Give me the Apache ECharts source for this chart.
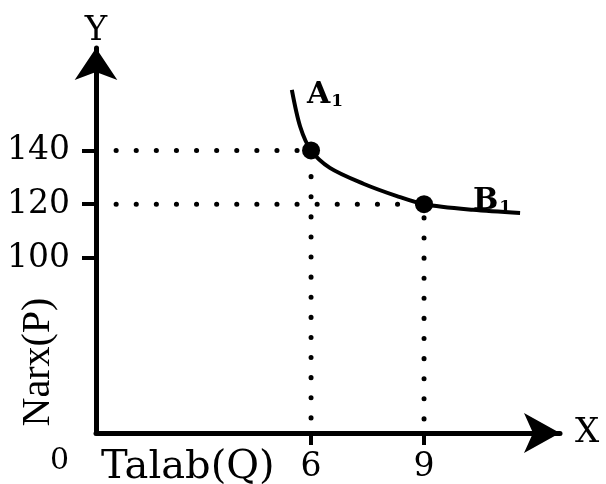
<!DOCTYPE html>
<html>
<head>
<meta charset="utf-8">
<title>Talab egri chizig'i</title>
<script src="https://cdn.jsdelivr.net/npm/echarts@6/dist/echarts.min.js"></script>
<style>
  html, body { margin: 0; padding: 0; background: #fff; }
  #chart { width: 606px; height: 484px; }
</style>
</head>
<body>
<div id="chart"></div>
<script>
// tick labels
var qTicks = [6, 9];
var pTicks = [100, 120, 140];

// talab egri chizig'i (Q, P)
var curveQ = [5.49, 5.71, 6, 6.5, 7.39, 8.28, 9, 10.3, 11.55];
var curveP = [162.5, 148.9, 140, 133.5, 127.6, 123.0, 120, 117.9, 116.7];

// belgilangan nuqtalar
var pointNames = ['A', 'B'];
var pointQ = [6, 9];
var pointP = [140, 120];

// o'qlar chegarasi (sxema, noldan chiziqli emas)
var xMin = 0.29, xMax = 12.61;
var yMin = 34.9, yMax = 178.1;

var serif = 'DejaVu Serif';
var ink = '#000';

var chart = echarts.init(document.getElementById('chart'));

var curveData = curveQ.map(function (q, i) { return [q, curveP[i]]; });

// nuqtalardan o'qlarga nuqtali chiziqlar
var guideSeries = pointQ.map(function (q, i) {
    return {
        type: 'line',
        data: [[xMin, pointP[i]], [q, pointP[i]], [q, yMin]],
        symbol: 'none',
        silent: true,
        lineStyle: { color: ink, width: 5, type: [0.1, 20], cap: 'round' },
        z: 1
    };
});

var labelOffsets = [[14, -26], [68, 26]];

var option = {
    backgroundColor: '#fff',
    animation: false,
    textStyle: { fontFamily: serif, color: ink },
    grid: { left: 96, right: 46, top: 48, bottom: 51 },
    xAxis: {
        type: 'value',
        min: xMin,
        max: xMax,
        name: 'X',
        nameGap: 15,
        nameTextStyle: { fontSize: 34, fontFamily: serif, color: ink, verticalAlign: 'middle' },
        axisLine: {
            lineStyle: { color: ink, width: 5 },
            symbol: ['none', 'arrow'],
            symbolSize: [30, 36]
        },
        axisTick: { customValues: qTicks, length: 12, lineStyle: { color: ink, width: 4 } },
        axisLabel: { customValues: qTicks, fontSize: 33, color: ink, margin: 18, fontFamily: serif },
        splitLine: { show: false }
    },
    yAxis: {
        type: 'value',
        min: yMin,
        max: yMax,
        name: 'Y',
        nameGap: 0,
        nameTextStyle: { fontSize: 34, fontFamily: serif, color: ink },
        axisLine: {
            lineStyle: { color: ink, width: 5 },
            symbol: ['none', 'arrow'],
            symbolSize: [32, 32]
        },
        axisTick: { customValues: pTicks, length: 14, lineStyle: { color: ink, width: 4 } },
        axisLabel: { customValues: pTicks, fontSize: 33, color: ink, margin: 26, fontFamily: serif },
        splitLine: { show: false }
    },
    series: guideSeries.concat([
        {
            type: 'line',
            data: curveData,
            smooth: 0.3,
            symbol: 'none',
            lineStyle: { color: ink, width: 4 },
            z: 3
        },
        {
            type: 'scatter',
            data: pointQ.map(function (q, i) {
                return {
                    value: [q, pointP[i]],
                    name: pointNames[i],
                    label: { offset: labelOffsets[i] }
                };
            }),
            symbolSize: 18,
            itemStyle: { color: ink, opacity: 1 },
            z: 4,
            label: {
                show: true,
                position: 'top',
                color: ink,
                formatter: function (p) { return '{m|' + p.name + '}{s|1}'; },
                rich: {
                    m: { fontFamily: serif, fontWeight: 'bold', fontSize: 30, color: ink },
                    s: { fontFamily: serif, fontWeight: 'bold', fontSize: 17, color: ink, padding: [12, 0, 0, 1] }
                }
            }
        }
    ]),
    graphic: [
        {
            type: 'text', left: 50, top: 446,
            style: { text: '0', font: '30px "DejaVu Serif"', fill: ink }
        },
        {
            type: 'text', left: 101, top: 448,
            style: { text: 'Talab(Q)', font: '40px "DejaVu Serif"', fill: ink }
        },
        {
            type: 'text', x: 38, y: 362, rotation: Math.PI / 2,
            style: { text: 'Narx(P)', font: '40px "Liberation Serif"', fill: ink, align: 'center', verticalAlign: 'middle' }
        }
    ]
};

chart.setOption(option);
</script>
</body>
</html>
